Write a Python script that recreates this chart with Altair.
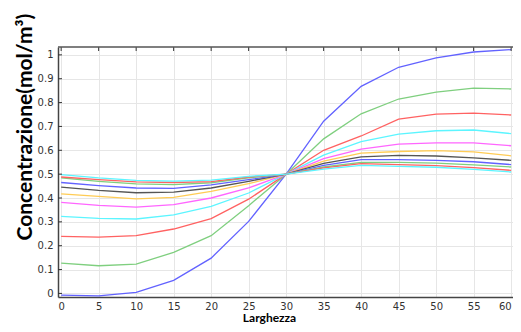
import altair as alt
import pandas as pd

# ---- data ----
x_pos = [0, 5, 10, 15, 20, 25, 30, 35, 40, 45, 50, 55, 60]

blue_1 = [-0.007, -0.010, 0.004, 0.055, 0.148, 0.302, 0.500, 0.722, 0.868, 0.948, 0.987, 1.012, 1.022]
green_1 = [0.127, 0.116, 0.123, 0.172, 0.242, 0.368, 0.500, 0.648, 0.753, 0.815, 0.844, 0.861, 0.857]
red_1 = [0.239, 0.236, 0.242, 0.270, 0.314, 0.395, 0.500, 0.600, 0.660, 0.731, 0.752, 0.756, 0.748]
cyan_1 = [0.323, 0.315, 0.312, 0.329, 0.365, 0.421, 0.500, 0.580, 0.636, 0.668, 0.682, 0.685, 0.670]
magenta_1 = [0.382, 0.369, 0.362, 0.372, 0.400, 0.442, 0.500, 0.565, 0.605, 0.626, 0.631, 0.631, 0.619]
yellow_1 = [0.417, 0.407, 0.396, 0.403, 0.428, 0.460, 0.500, 0.555, 0.588, 0.595, 0.599, 0.593, 0.577]
black_1 = [0.446, 0.432, 0.422, 0.425, 0.442, 0.470, 0.500, 0.545, 0.572, 0.579, 0.576, 0.568, 0.558]
blue_2 = [0.465, 0.452, 0.442, 0.440, 0.455, 0.477, 0.500, 0.537, 0.561, 0.561, 0.558, 0.552, 0.540]
green_2 = [0.484, 0.470, 0.459, 0.456, 0.464, 0.484, 0.500, 0.530, 0.549, 0.549, 0.546, 0.539, 0.530]
red_2 = [0.488, 0.477, 0.468, 0.465, 0.469, 0.488, 0.500, 0.526, 0.544, 0.540, 0.536, 0.527, 0.516]
cyan_2 = [0.498, 0.484, 0.474, 0.471, 0.475, 0.491, 0.500, 0.521, 0.537, 0.533, 0.529, 0.520, 0.509]

series_names = ["s1", "s2", "s3", "s4", "s5", "s6", "s7", "s8", "s9", "s10", "s11"]
series_values = [blue_1, green_1, red_1, cyan_1, magenta_1, yellow_1,
                 black_1, blue_2, green_2, red_2, cyan_2]
series_colors = ["#6262ff", "#7fcf7f", "#ff6262", "#5cf5ff", "#ff66ff", "#ffcc55",
                 "#555555", "#6262ff", "#7fcf7f", "#ff6262", "#5cf5ff"]

x_ticks = [0, 5, 10, 15, 20, 25, 30, 35, 40, 45, 50, 55, 60]
y_ticks = [0, 0.1, 0.2, 0.3, 0.4, 0.5, 0.6, 0.7, 0.8, 0.9, 1.0]

x_title = "Larghezza"
y_title = "Concentrazione(mol/m³)"

rows = []
for name, vals in zip(series_names, series_values):
    for xv, yv in zip(x_pos, vals):
        rows.append({"serie": name, "x": xv, "y": yv})
df = pd.DataFrame(rows)

W, H = 455, 250
xscale = alt.Scale(domain=[-0.42, 60.25], nice=False, zero=False)
yscale = alt.Scale(domain=[-0.015, 1.033], nice=False, zero=False)

x_axis = alt.Axis(values=x_ticks, title=x_title, titleX=211, titleY=24,
                  titleAlign="center", titleBaseline="alphabetic",
                  titleFont="Lato", titleFontSize=12, titleFontWeight="bold",
                  titleColor="#000000", labelPadding=4,
                  labelAlign={"condition": {"test": "datum.value >= 60", "value": "right"},
                              "value": "center"})
y_axis = alt.Axis(values=y_ticks, format="~g", title=y_title,
                  titleX=-27, titleY=193, titleAngle=270,
                  titleAlign="left", titleBaseline="alphabetic",
                  titleFont="Lato", titleFontSize=21, titleFontWeight="bold",
                  titleColor="#000000", labelPadding=5)

lines = alt.Chart(df).mark_line(strokeWidth=1.3, clip=True).encode(
    x=alt.X("x:Q", scale=xscale, axis=x_axis),
    y=alt.Y("y:Q", scale=yscale, axis=y_axis),
    color=alt.Color("serie:N", scale=alt.Scale(domain=series_names, range=series_colors),
                    legend=None),
)

top_ticks = alt.Chart(pd.DataFrame({"x": x_ticks})).mark_rule(color="#333333", strokeWidth=1).encode(
    x=alt.X("x:Q", scale=xscale, axis=x_axis),
    y=alt.value(0), y2=alt.value(4),
)
left_ticks = alt.Chart(pd.DataFrame({"y": y_ticks})).mark_rule(color="#333333", strokeWidth=1).encode(
    y=alt.Y("y:Q", scale=yscale, axis=y_axis),
    x=alt.value(0), x2=alt.value(4),
)
top_frame = alt.Chart(pd.DataFrame({"a": [0]})).mark_rule(color="#555555", strokeWidth=1.5).encode(
    x=alt.value(0), x2=alt.value(W), y=alt.value(0),
)

chart = alt.layer(lines, top_ticks, left_ticks, top_frame).properties(
    width=W, height=H,
    padding={"left": 50, "top": 39, "right": 0, "bottom": 27},
    autosize=alt.AutoSizeParams(type="none"),
).configure_view(stroke=None).configure_axis(
    gridColor="#e6e6e6", gridWidth=1,
    labelFont="DejaVu Sans", labelFontSize=10, labelColor="#333333",
    domainColor="#444444", domainWidth=1.5, ticks=False,
)

chart.save("out.html", embed_options={"renderer": "svg", "actions": False})
